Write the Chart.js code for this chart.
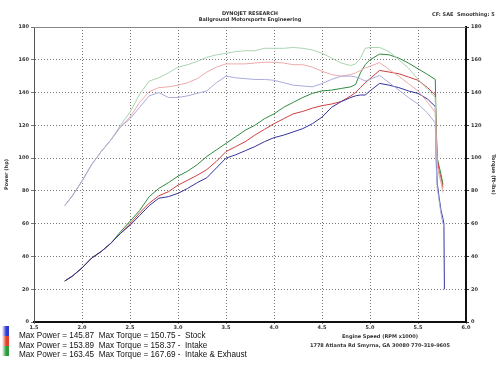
<!DOCTYPE html>
<html>
<head>
<meta charset="utf-8">
<script src="https://cdn.jsdelivr.net/npm/chart.js@4.4.1/dist/chart.umd.min.js"></script>
<style>
  body { margin: 0; background: #fff; }
  #wrap { position: relative; width: 500px; height: 375px; overflow: hidden; font-family: "Liberation Sans", Arial, sans-serif; }
  canvas { position: absolute; left: 0; top: 0; }
  .tiny { position: absolute; font-family: "DejaVu Sans", sans-serif; font-weight: bold; font-size: 5px; color: #333; white-space: nowrap; }
  .leg { position: absolute; left: 19px; font-size: 9.5px; color: #111; white-space: pre; transform-origin: 0 0; transform: scaleX(0.86); }
  .sw { position: absolute; left: 2px; width: 7px; height: 10px; }
</style>
</head>
<body>
<div id="wrap">
  <canvas id="dyno" width="500" height="375"></canvas>
  <div class="tiny" style="left:0;width:500px;text-align:center;top:10px;">DYNOJET RESEARCH</div>
  <div class="tiny" style="left:0;width:500px;text-align:center;top:16px;">Ballground Motorsports Engineering</div>
  <div class="tiny" style="left:432px;top:11px;">CF: SAE&nbsp; Smoothing: 5</div>
  <div class="tiny" style="left:280px;width:200px;text-align:center;top:333px;">Engine Speed (RPM x1000)</div>
  <div class="tiny" style="left:280px;width:200px;text-align:center;top:342px;">1778 Atlanta Rd Smyrna, GA 30080 770-319-9605</div>
  <div id="legend"></div>
</div>
<script>
// engine speed, x1000 rpm
const rpmMain = [1.82, 1.9, 2.0, 2.1, 2.2, 2.3, 2.4, 2.5, 2.6, 2.7, 2.8, 2.9, 3.0, 3.1, 3.2, 3.3, 3.4, 3.5, 3.6, 3.7,
                 3.8, 3.9, 4.0, 4.1, 4.2, 4.3, 4.4, 4.5, 4.6, 4.7, 4.8, 4.85, 4.9, 4.95, 5.0, 5.1, 5.2, 5.3, 5.4, 5.5, 5.6, 5.68];
const rpmTail = [5.69, 5.70, 5.72, 5.74, 5.76, 5.77, 5.775];

// Stock
const stockPower  = [25, 28, 33, 39, 43, 48, 54, 59, 65, 71, 75.5, 76.5, 78.5, 81.5, 85, 88, 94, 100, 102, 104.5,
                     107, 110, 112.5, 114, 116, 118, 121, 125, 131, 134.5, 137, 138, 138.5, 138.5, 141, 145.6, 144.5, 143, 141, 139.5, 136, 131.5];
const stockTorque = [71, 77, 86, 96, 104, 111, 119, 124, 131, 138, 140, 137, 137, 138, 139.5, 141, 146, 150, 149, 148.5,
                     148, 148, 147.5, 146, 144.5, 144, 143.5, 145.5, 148, 150, 150, 149.5, 148.5, 147, 148, 150.5, 146, 141.5, 137, 133, 127.5, 121.5];
const stockPowerTail  = [100, 85, 76, 68, 63, 60, 20];
const stockTorqueTail = [95, 82, 74, 66, 60, 58, null];

// Intake
const intakePower  = [25, 28, 33, 39, 43, 48, 54, 60, 66.5, 72.5, 77, 79.5, 83.5, 86.5, 89.5, 93, 98, 104, 107, 110,
                      114, 117.5, 121, 124, 127, 128.5, 130.5, 132, 133, 134.5, 138, 140, 143, 146, 148.5, 153.5, 152.5, 151.5, 149.5, 147.5, 143, 138.5];
const intakeTorque = [71, 77, 86, 96, 104, 111, 119, 125, 134, 140.5, 143, 143.5, 144.5, 146, 148.5, 152.5, 155.5, 157.5, 157.5, 157.5,
                      158, 158.5, 158.5, 158, 157, 157, 155.5, 153, 151, 150, 151, 152, 153.5, 155, 156, 158.3, 154, 150, 145.5, 141, 134, 128];
const intakePowerTail  = [115, 100, 92, 88, 82, null, null];
const intakeTorqueTail = [110, 96, 90, 85, 80, null, null];

// Intake & Exhaust
const exhaustPower  = [25, 28, 33, 39, 43, 48, 55, 61.5, 68, 76.5, 81.5, 85, 89, 92, 96, 101, 105, 109, 113, 117,
                       120, 124, 127, 131, 134, 137, 139.5, 141, 141.5, 142.5, 143.5, 145, 152, 157, 160, 163.5, 163, 161, 158, 154.5, 151, 148];
const exhaustTorque = [71, 77, 86, 96, 104, 111, 120, 128, 139, 147, 149, 152, 155.5, 157, 159, 161.5, 163, 164, 165, 165.5,
                       165.5, 167, 167, 167, 167.5, 167, 166, 164, 161, 158, 156.5, 157.5, 161, 167, 167.5, 167.5, 165, 160, 155, 148, 142, 137];
const exhaustPowerTail  = [120, 100, 95, 90, 84, null, null];
const exhaustTorqueTail = [110, 95, 90, 86, 79, null, null];

const yTicks = [0, 20, 40, 60, 80, 100, 120, 140, 160, 180];
const xTicks = [1.5, 2.0, 2.5, 3.0, 3.5, 4.0, 4.5, 5.0, 5.5, 6.0];

const legendRows = [
  { text: 'Max Power = 145.87  Max Torque = 150.75 -  Stock', color: '#2d3ad0' },
  { text: 'Max Power = 153.89  Max Torque = 158.37 -  Intake', color: '#e0402a' },
  { text: 'Max Power = 163.45  Max Torque = 167.69 -  Intake & Exhaust', color: '#2e9a3a' }
];

const rpm = rpmMain.concat(rpmTail);
function pts(main, tail) {
  const vals = main.concat(tail);
  return rpm.map((x, i) => ({ x: x, y: vals[i] }));
}

function line(label, data, color, axis) {
  return { label: label, data: data, borderColor: color, borderWidth: 1, pointRadius: 0,
           tension: 0, spanGaps: false, yAxisID: axis, fill: false };
}

const datasets = [
  line('Torque Stock', pts(stockTorque, stockTorqueTail), '#aaaadd', 'y1'),
  line('Torque Intake', pts(intakeTorque, intakeTorqueTail), '#eeaaaa', 'y1'),
  line('Torque Intake & Exhaust', pts(exhaustTorque, exhaustTorqueTail), '#aad4b0', 'y1'),
  line('Power Stock', pts(stockPower, stockPowerTail), '#33339a', 'y'),
  line('Power Intake', pts(intakePower, intakePowerTail), '#cc4040', 'y'),
  line('Power Intake & Exhaust', pts(exhaustPower, exhaustPowerTail), '#2f8a3e', 'y')
];

const tickFont = { family: 'DejaVu Sans', size: 5, weight: 'bold' };

const topLine = {
  id: 'topLine',
  beforeDatasetsDraw(chart) {
    const a = chart.chartArea, ctx = chart.ctx;
    ctx.save();
    ctx.strokeStyle = '#888';
    ctx.lineWidth = 1;
    ctx.beginPath();
    ctx.moveTo(a.left, a.top + 0.5);
    ctx.lineTo(a.right, a.top + 0.5);
    ctx.stroke();
    ctx.restore();
  }
};

new Chart(document.getElementById('dyno'), {
  type: 'line',
  data: { datasets: datasets },
  plugins: [topLine],
  options: {
    responsive: false,
    animation: false,
    layout: { padding: { top: 27 } },
    plugins: { legend: { display: false }, tooltip: { enabled: false } },
    scales: {
      x: {
        type: 'linear', min: 1.5, max: 6.0,
        afterBuildTicks: s => { s.ticks = xTicks.map(v => ({ value: v })); },
        afterFit: s => { s.height = 53; },
        ticks: { font: tickFont, color: '#333', padding: 1, maxRotation: 0, callback: v => v.toFixed(1) },
        grid: { color: '#777', tickLength: 2, lineWidth: 1 },
        border: { color: '#111', width: 2, dash: [1, 2] }
      },
      y: {
        position: 'left', min: 0, max: 180,
        afterBuildTicks: s => { s.ticks = yTicks.map(v => ({ value: v })); },
        afterFit: s => { s.width = 34; },
        title: { display: true, text: 'Power (hp)', font: tickFont, color: '#333', padding: 4 },
        ticks: { font: tickFont, color: '#333', padding: 2 },
        grid: { color: '#777', tickLength: 3, lineWidth: 1 },
        border: { color: '#555', width: 1, dash: [1, 2] }
      },
      y1: {
        position: 'right', min: 0, max: 180,
        afterBuildTicks: s => { s.ticks = yTicks.map(v => ({ value: v })); },
        afterFit: s => { s.width = 34; },
        title: { display: true, text: 'Torque (ft-lbs)', font: tickFont, color: '#333', padding: 4 },
        ticks: { font: tickFont, color: '#333', padding: 2 },
        grid: { drawOnChartArea: false, color: '#333', tickLength: 3 },
        border: { color: '#111', width: 2 }
      }
    }
  }
});

const legend = document.getElementById('legend');
legendRows.forEach((r, i) => {
  const sw = document.createElement('div');
  sw.className = 'sw';
  sw.style.top = (326 + i * 10) + 'px';
  sw.style.background = 'linear-gradient(90deg, #fff 0%, ' + r.color + ' 60%, ' + r.color + ' 100%)';
  legend.appendChild(sw);
  const t = document.createElement('div');
  t.className = 'leg';
  t.style.top = (329 + i * 9.6) + 'px';
  t.textContent = r.text;
  legend.appendChild(t);
});
</script>
</body>
</html>
